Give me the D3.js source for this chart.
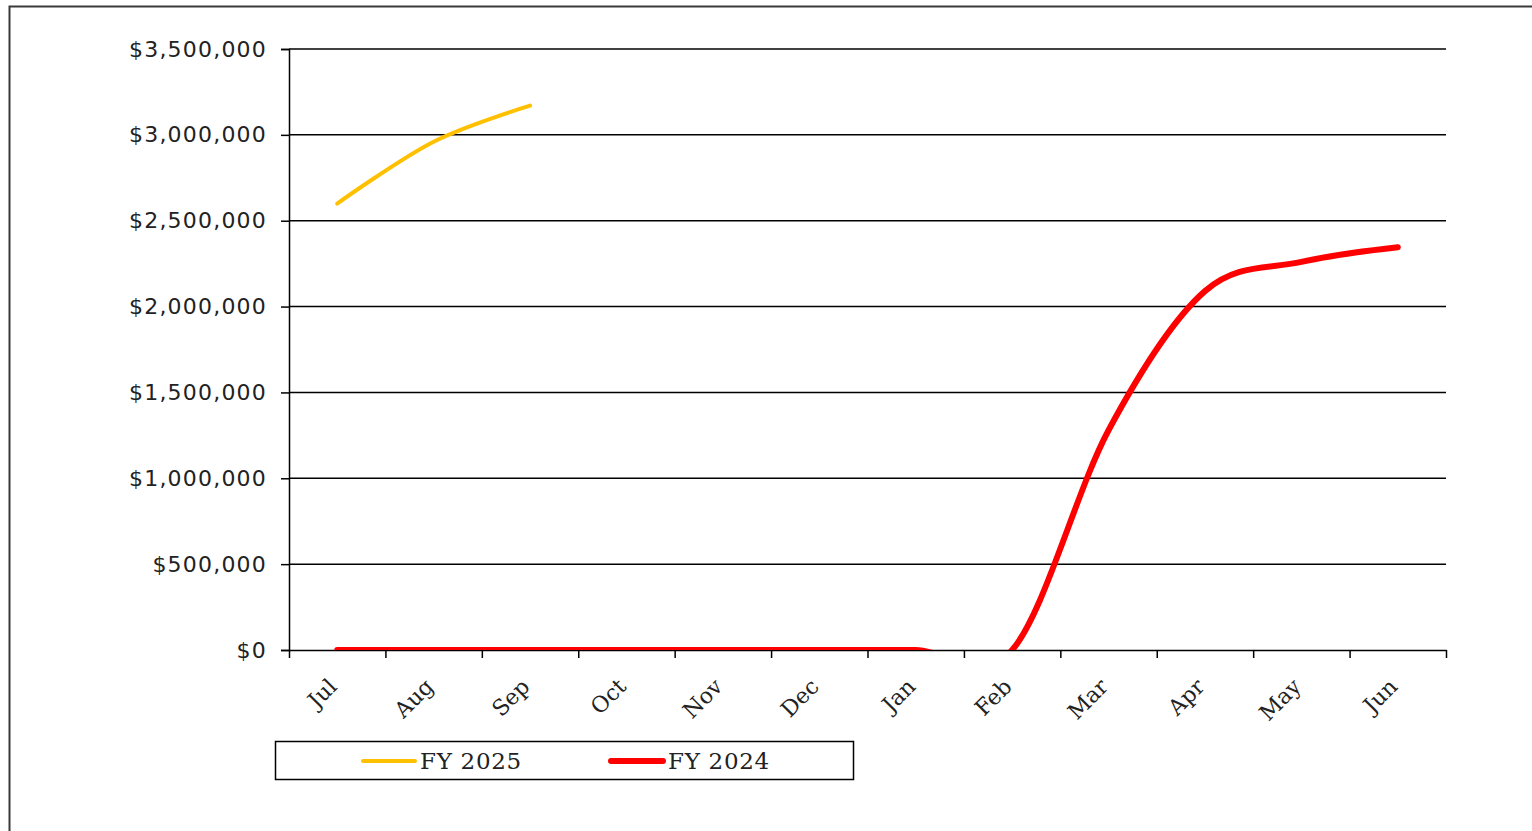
<!DOCTYPE html>
<html>
<head>
<meta charset="utf-8">
<script src="https://cdn.jsdelivr.net/npm/d3@7"></script>
<style>
  body { margin: 0; background: #fff; }
  svg { display: block; }
</style>
</head>
<body>
<div id="chart"></div>
<script>
// chart data
var months = ["Jul", "Aug", "Sep", "Oct", "Nov", "Dec", "Jan", "Feb", "Mar", "Apr", "May", "Jun"];
var fy2025 = [2600000, 2960000, 3170000];
var fy2024 = [0, 0, 0, 0, 0, 0, 0, 0, 1280000, 2090000, 2260000, 2345000];
var yTicks = [0, 500000, 1000000, 1500000, 2000000, 2500000, 3000000, 3500000];
var seriesNames = ["FY 2025", "FY 2024"];

// svg size and margins
var svgWidth = 1532;
var svgHeight = 831;

var margin = {
    top: 49,
    left: 289,
    right: 86,
    bottom: 181
};

var width = svgWidth - margin.left - margin.right;
var height = svgHeight - margin.top - margin.bottom;

var svg = d3.select("#chart").append("svg")
    .attr("width", svgWidth)
    .attr("height", svgHeight);

// outer chart frame
svg.append("rect")
    .attr("x", 9.5)
    .attr("y", 6.5)
    .attr("width", 1540)
    .attr("height", 840)
    .attr("fill", "none")
    .attr("stroke", "#3a3a3a")
    .attr("stroke-width", 2);

var chartGroup = svg.append("g")
    .attr("transform", `translate(${margin.left}, ${margin.top})`);

// scales
var xBand = d3.scaleBand()
    .domain(months)
    .range([0, width])
    .paddingInner(0)
    .paddingOuter(0);

var xEdge = d3.scaleLinear()
    .domain([0, months.length])
    .range([0, width]);

var yLinearScale = d3.scaleLinear()
    .domain([0, 3500000])
    .range([height, 0]);

var fmt = d3.format("$,.0f");

// gridlines
chartGroup.append("g")
    .selectAll("line")
    .data(yTicks.slice(1))
    .enter()
    .append("line")
    .attr("x1", 0)
    .attr("x2", width)
    .attr("y1", d => yLinearScale(d))
    .attr("y2", d => yLinearScale(d))
    .attr("stroke", "#000")
    .attr("stroke-width", 1.5);

// y axis
var leftAxis = d3.axisLeft(yLinearScale)
    .tickValues(yTicks)
    .tickFormat(fmt)
    .tickSize(8)
    .tickPadding(14);

var yAxis = chartGroup.append("g").call(leftAxis);
yAxis.select(".domain").attr("stroke", "#000").attr("stroke-width", 1.5);
yAxis.selectAll(".tick line").attr("stroke", "#000").attr("stroke-width", 1.5);
yAxis.selectAll("text")
    .attr("fill", "#222")
    .style("font-family", "'DejaVu Sans', Verdana, sans-serif")
    .style("font-size", "22px")
    .style("letter-spacing", "1.2px");

// x axis tick marks at category edges
var edgeAxis = d3.axisBottom(xEdge)
    .tickValues(d3.range(months.length + 1))
    .tickFormat("")
    .tickSize(8)
    .tickSizeOuter(0);

var xAxis = chartGroup.append("g")
    .attr("transform", `translate(0, ${height})`)
    .call(edgeAxis);
xAxis.select(".domain").attr("stroke", "#000").attr("stroke-width", 1.5);
xAxis.selectAll(".tick line").attr("stroke", "#000").attr("stroke-width", 1.5);

// x labels at category centers
var labelAxis = d3.axisBottom(xBand).tickSize(0).tickPadding(0);
var xLabels = chartGroup.append("g")
    .attr("transform", `translate(0, ${height})`)
    .call(labelAxis);
xLabels.select(".domain").remove();
xLabels.selectAll("text")
    .attr("fill", "#222")
    .attr("dy", null)
    .attr("y", null)
    .attr("text-anchor", "end")
    .attr("transform", "translate(1, 38) rotate(-45)")
    .style("font-family", "'DejaVu Serif', Georgia, serif")
    .style("font-size", "22px");

// clip lines to plot area
svg.append("defs").append("clipPath")
    .attr("id", "plotClip")
    .append("rect")
    .attr("x", 0)
    .attr("y", -10)
    .attr("width", width)
    .attr("height", height + 10);

var lineGen = d3.line()
    .x((d, i) => xBand(months[i]) + xBand.bandwidth() / 2)
    .y(d => yLinearScale(d))
    .curve(d3.curveCardinal.tension(0));

var lines = chartGroup.append("g").attr("clip-path", "url(#plotClip)");

lines.append("path")
    .attr("d", lineGen(fy2024))
    .attr("fill", "none")
    .attr("stroke", "#ff0000")
    .attr("stroke-width", 6)
    .attr("stroke-linecap", "round");

lines.append("path")
    .attr("d", lineGen(fy2025))
    .attr("fill", "none")
    .attr("stroke", "#ffc000")
    .attr("stroke-width", 4)
    .attr("stroke-linecap", "round");

// legend
var legend = svg.append("g");
legend.append("rect")
    .attr("x", 275.5)
    .attr("y", 741.5)
    .attr("width", 578)
    .attr("height", 38)
    .attr("fill", "#fff")
    .attr("stroke", "#000")
    .attr("stroke-width", 1.5);

var legendItems = [
    { name: seriesNames[0], color: "#ffc000", w: 4, x: 363 },
    { name: seriesNames[1], color: "#ff0000", w: 6, x: 611 }
];

legendItems.forEach(function(item) {
    legend.append("line")
        .attr("x1", item.x)
        .attr("x2", item.x + 52)
        .attr("y1", 761)
        .attr("y2", 761)
        .attr("stroke", item.color)
        .attr("stroke-width", item.w)
        .attr("stroke-linecap", "round");
    legend.append("text")
        .attr("x", item.x + 57)
        .attr("y", 769)
        .attr("fill", "#222")
        .style("font-family", "'DejaVu Serif', Georgia, serif")
        .style("font-size", "23px")
        .style("letter-spacing", "0.7px")
        .text(item.name);
});
</script>
</body>
</html>
